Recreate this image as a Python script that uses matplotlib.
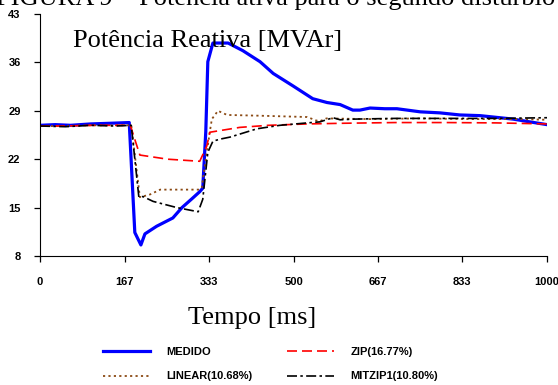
import matplotlib
matplotlib.use("Agg")
import matplotlib.pyplot as plt

# tempo [ms] e potencia reativa [MVAr]
t_medido = [0, 30, 60, 100, 140, 176, 187, 199, 207, 230, 262, 280, 300, 315, 321, 327, 331,
            341, 371, 400, 434, 460, 499, 538, 566, 592, 617, 631, 651, 680, 704, 750, 789,
            828, 868, 907, 933, 966, 1000]
medido = [26.9, 27.0, 26.9, 27.1, 27.2, 27.3, 11.4, 9.6, 11.2, 12.3, 13.5, 15.0, 16.3, 17.3,
          17.8, 26.0, 36.1, 38.8, 38.8, 37.7, 36.1, 34.4, 32.6, 30.75, 30.2, 29.9, 29.1, 29.1,
          29.4, 29.3, 29.3, 28.85, 28.7, 28.4, 28.3, 28.0, 27.8, 27.4, 27.0]

t_zip = [0, 50, 100, 150, 178, 197, 252, 315, 329, 335, 394, 450, 527, 600, 700, 800, 900, 1000]
zip_ = [26.8, 26.8, 26.9, 26.9, 26.9, 22.6, 22.0, 21.7, 23.9, 25.9, 26.6, 26.9, 27.1, 27.2,
        27.3, 27.3, 27.25, 27.1]

t_linear = [0, 50, 100, 150, 180, 197, 217, 237, 280, 315, 319, 335, 339, 351, 369, 428, 527,
            545, 552, 565, 650, 750, 850, 950, 1000]
linear = [26.8, 26.8, 26.9, 26.9, 26.9, 16.5, 16.9, 17.6, 17.6, 17.6, 17.9, 26.0, 27.8, 29.0,
          28.4, 28.3, 28.1, 27.6, 27.5, 27.9, 27.8, 27.9, 27.8, 27.8, 27.7]

t_mitzip = [0, 50, 100, 150, 180, 195, 203, 223, 270, 312, 321, 331, 341, 355, 375, 428, 473,
            527, 552, 578, 592, 620, 700, 800, 900, 1000]
mitzip = [26.8, 26.7, 26.9, 26.8, 26.9, 16.5, 16.6, 15.9, 15.0, 14.4, 16.2, 23.0, 24.6, 24.9,
          25.2, 26.4, 26.9, 27.25, 27.4, 28.0, 27.7, 27.8, 27.9, 27.9, 27.9, 28.0]

xticks = [0, 167, 333, 500, 667, 833, 1000]
yticks = [8, 15, 22, 29, 36, 43]

narrow = ['Liberation Sans Narrow', 'Liberation Sans', 'DejaVu Sans']
serif = ['Liberation Serif', 'DejaVu Serif']

fig = plt.figure(figsize=(5.58, 3.85), dpi=100)
ax = fig.add_axes([40/558, 1-256/385, 507/558, 242/385])

ax.plot(t_medido, medido, color='#0000ff', lw=2.3, label='MEDIDO')
ax.plot(t_linear, linear, color='#8b4a14', lw=1.3, dashes=(1.2, 1.8), label='LINEAR(10.68%)')
ax.plot(t_zip, zip_, color='#ff0000', lw=1.2, dashes=(6, 3), label='ZIP(16.77%)')
ax.plot(t_mitzip, mitzip, color='black', lw=1.2, dashes=(6, 2, 1.5, 2), label='MITZIP1(10.80%)')

ax.set_xlim(0, 1000)
ax.set_ylim(8, 43)
ax.set_xticks(xticks)
ax.set_yticks(yticks)
for s in ['top', 'right']:
    ax.spines[s].set_visible(False)
ax.tick_params(direction='out', length=4, width=0.9)
ax.tick_params(axis='x', pad=11)
ax.tick_params(axis='y', pad=10)
for lab in ax.get_xticklabels() + ax.get_yticklabels():
    lab.set_family(narrow)
    lab.set_fontweight('bold')
    lab.set_fontsize(8)

fig.text(73/558, 1-47/385, 'Potência Reativa [MVAr]', family=serif, fontsize=19, va='baseline')
fig.text(252/558, 1-324/385, 'Tempo [ms]', family=serif, fontsize=19, va='baseline', ha='center')
fig.text(-4/558, 1-5/385, 'FIGURA 9 – Potência ativa para o segundo distúrbio',
         family=serif, fontsize=19, va='baseline')

h, l = ax.get_legend_handles_labels()
leg = fig.legend(h, l, ncol=2,
                 loc='upper left', bbox_to_anchor=(103/558, 1-347/385), frameon=False,
                 prop={'family': narrow, 'weight': 'bold', 'size': 8},
                 handlelength=4.2, handletextpad=1.45, columnspacing=3.2,
                 labelspacing=1.3, borderpad=0, borderaxespad=0)

fig.savefig('out.png', dpi=100)
